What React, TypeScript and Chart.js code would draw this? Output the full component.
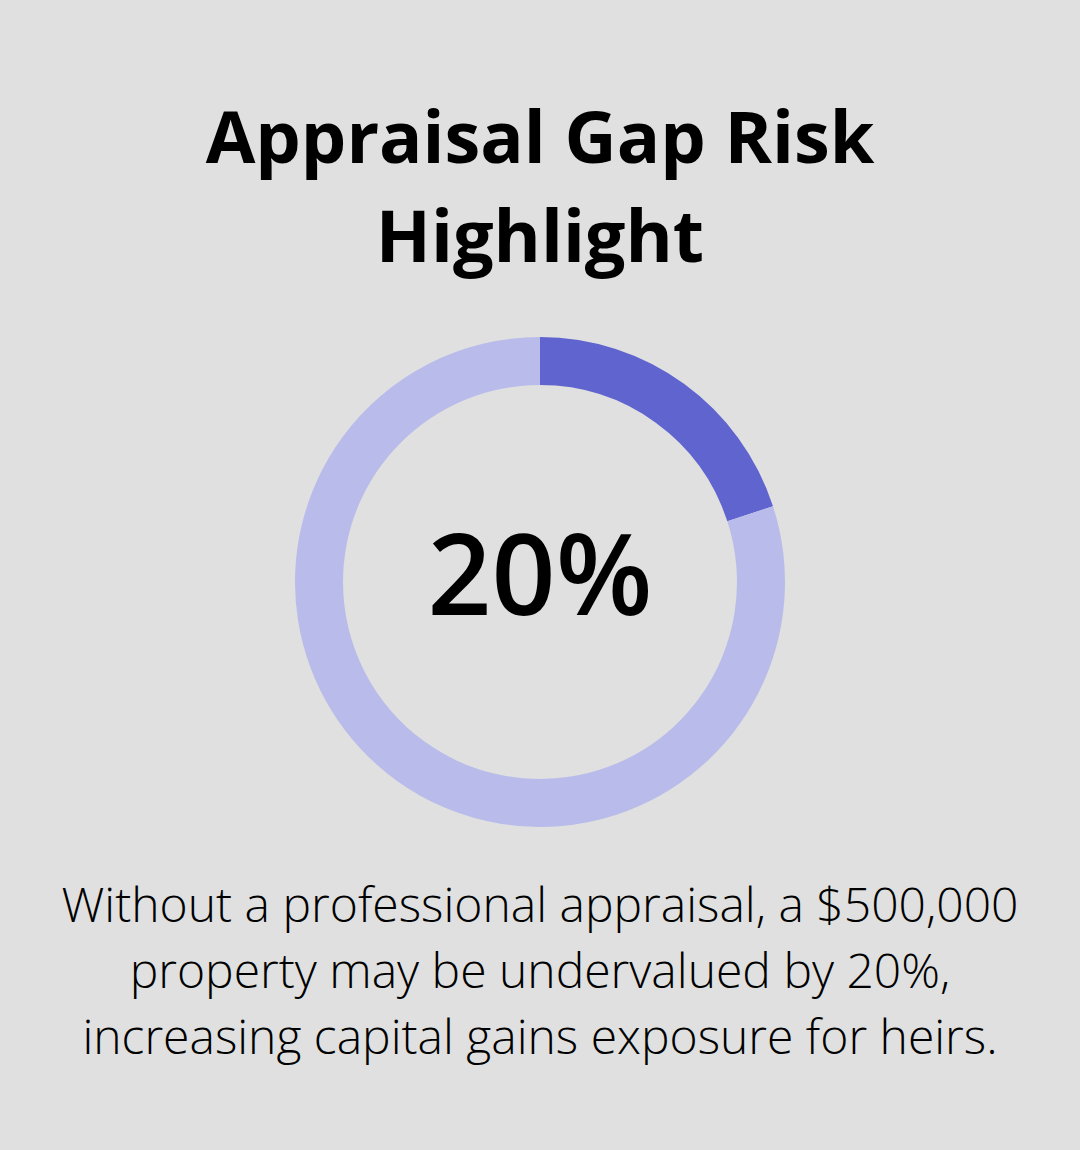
import React, { useEffect, useRef } from "react";
import { Chart, registerables } from "chart.js";

Chart.register(...registerables);

const titleLines = ["Appraisal Gap Risk", "Highlight"];
const sliceLabels = ["Undervalued", "Remaining"];
const sliceValues = [20, 80];
const sliceColors = ["#5f64cf", "#b9bcea"];
const centerLabel = "20%";
const captionLines = [
  "Without a professional appraisal, a $500,000",
  "property may be undervalued by 20%,",
  "increasing capital gains exposure for heirs.",
];

export default function App() {
  const ref = useRef<HTMLCanvasElement | null>(null);

  useEffect(() => {
    document.body.style.margin = "0";
    const canvas = ref.current;
    if (!canvas) return;
    const chart = new Chart(canvas, {
      type: "doughnut",
      data: {
        labels: sliceLabels,
        datasets: [
          {
            data: sliceValues,
            backgroundColor: sliceColors,
            borderWidth: 0,
            hoverOffset: 0,
          },
        ],
      },
      options: {
        responsive: false,
        animation: false,
        cutout: "80.4%",
        layout: { padding: 0 },
        plugins: {
          legend: { display: false },
          tooltip: { enabled: false },
          title: { display: false },
        },
      },
    });
    return () => chart.destroy();
  }, []);

  return (
    <div
      style={{
        position: "relative",
        width: 1080,
        height: 1150,
        background: "#dfe0df",
        fontFamily: "'Open Sans', sans-serif",
        color: "#000",
        overflow: "hidden",
      }}
    >
      <div
        style={{
          position: "absolute",
          top: 86,
          left: 0,
          width: 1080,
          textAlign: "center",
          fontWeight: 700,
          fontSize: 72,
          lineHeight: "99px",
        }}
      >
        {titleLines.map((l, i) => (
          <div key={i}>{l}</div>
        ))}
      </div>
      <canvas
        ref={ref}
        width={490}
        height={490}
        style={{ position: "absolute", left: 295, top: 337, width: 490, height: 490 }}
      />
      <div
        style={{
          position: "absolute",
          top: 497,
          left: 0,
          width: 1080,
          height: 150,
          lineHeight: "150px",
          textAlign: "center",
          fontWeight: 600,
          fontSize: 112,
        }}
      >
        {centerLabel}
      </div>
      <div
        style={{
          position: "absolute",
          top: 871,
          left: 0,
          width: 1080,
          textAlign: "center",
          fontWeight: 300,
          fontSize: 48,
          lineHeight: "66px",
        }}
      >
        {captionLines.map((l, i) => (
          <div key={i}>{l}</div>
        ))}
      </div>
    </div>
  );
}
